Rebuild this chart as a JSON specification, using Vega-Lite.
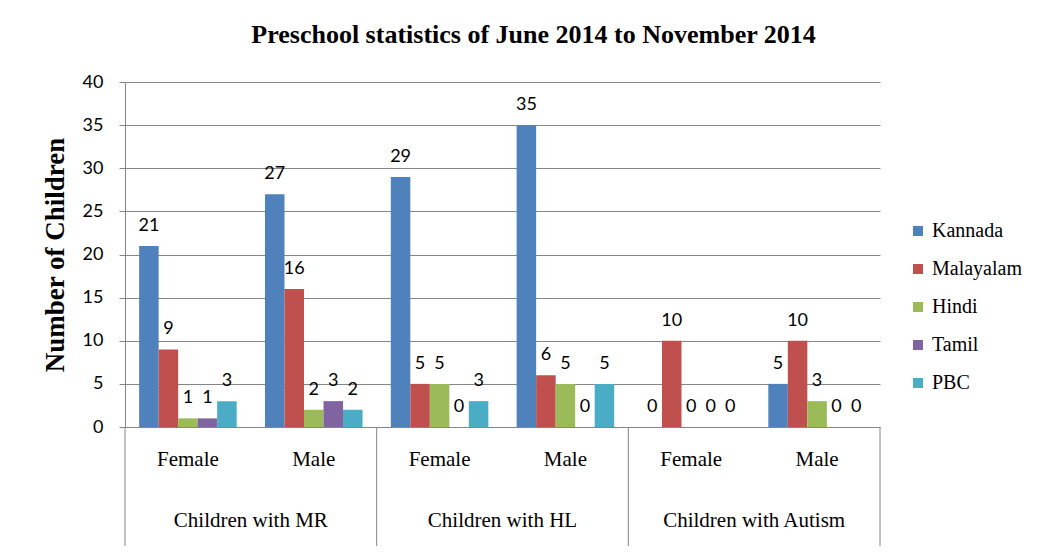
{
  "$schema": "https://vega.github.io/schema/vega-lite/v6.json",
  "width": 755,
  "height": 345,
  "autosize": {"type": "none"},
  "padding": {"left": 125, "top": 82, "right": 173, "bottom": 129},
  "background": "white",
  "title": {"text": "Preschool statistics of  June 2014  to November 2014", "font": "Liberation Serif, Times New Roman, serif", "fontSize": 26, "fontWeight": "bold", "color": "black", "anchor": "middle", "frame": "group", "offset": 25, "dx": 31},
  "config": {"view": {"stroke": null}},
  "datasets": {
    "counts": [
      {"group": "Children with MR", "gender": "Female", "cat": "MR|Female", "language": "Kannada", "value": 21},
      {"group": "Children with MR", "gender": "Female", "cat": "MR|Female", "language": "Malayalam", "value": 9},
      {"group": "Children with MR", "gender": "Female", "cat": "MR|Female", "language": "Hindi", "value": 1},
      {"group": "Children with MR", "gender": "Female", "cat": "MR|Female", "language": "Tamil", "value": 1},
      {"group": "Children with MR", "gender": "Female", "cat": "MR|Female", "language": "PBC", "value": 3},
      {"group": "Children with MR", "gender": "Male", "cat": "MR|Male", "language": "Kannada", "value": 27},
      {"group": "Children with MR", "gender": "Male", "cat": "MR|Male", "language": "Malayalam", "value": 16},
      {"group": "Children with MR", "gender": "Male", "cat": "MR|Male", "language": "Hindi", "value": 2},
      {"group": "Children with MR", "gender": "Male", "cat": "MR|Male", "language": "Tamil", "value": 3},
      {"group": "Children with MR", "gender": "Male", "cat": "MR|Male", "language": "PBC", "value": 2},
      {"group": "Children with HL", "gender": "Female", "cat": "HL|Female", "language": "Kannada", "value": 29},
      {"group": "Children with HL", "gender": "Female", "cat": "HL|Female", "language": "Malayalam", "value": 5},
      {"group": "Children with HL", "gender": "Female", "cat": "HL|Female", "language": "Hindi", "value": 5},
      {"group": "Children with HL", "gender": "Female", "cat": "HL|Female", "language": "Tamil", "value": 0},
      {"group": "Children with HL", "gender": "Female", "cat": "HL|Female", "language": "PBC", "value": 3},
      {"group": "Children with HL", "gender": "Male", "cat": "HL|Male", "language": "Kannada", "value": 35},
      {"group": "Children with HL", "gender": "Male", "cat": "HL|Male", "language": "Malayalam", "value": 6},
      {"group": "Children with HL", "gender": "Male", "cat": "HL|Male", "language": "Hindi", "value": 5},
      {"group": "Children with HL", "gender": "Male", "cat": "HL|Male", "language": "Tamil", "value": 0},
      {"group": "Children with HL", "gender": "Male", "cat": "HL|Male", "language": "PBC", "value": 5},
      {"group": "Children with  Autism", "gender": "Female", "cat": "Autism|Female", "language": "Kannada", "value": 0},
      {"group": "Children with  Autism", "gender": "Female", "cat": "Autism|Female", "language": "Malayalam", "value": 10},
      {"group": "Children with  Autism", "gender": "Female", "cat": "Autism|Female", "language": "Hindi", "value": 0},
      {"group": "Children with  Autism", "gender": "Female", "cat": "Autism|Female", "language": "Tamil", "value": 0},
      {"group": "Children with  Autism", "gender": "Female", "cat": "Autism|Female", "language": "PBC", "value": 0},
      {"group": "Children with  Autism", "gender": "Male", "cat": "Autism|Male", "language": "Kannada", "value": 5},
      {"group": "Children with  Autism", "gender": "Male", "cat": "Autism|Male", "language": "Malayalam", "value": 10},
      {"group": "Children with  Autism", "gender": "Male", "cat": "Autism|Male", "language": "Hindi", "value": 3},
      {"group": "Children with  Autism", "gender": "Male", "cat": "Autism|Male", "language": "Tamil", "value": 0},
      {"group": "Children with  Autism", "gender": "Male", "cat": "Autism|Male", "language": "PBC", "value": 0}
    ],
    "groups": [
      {"group": "Children with MR", "cat": "MR|Female"},
      {"group": "Children with HL", "cat": "HL|Female"},
      {"group": "Children with  Autism", "cat": "Autism|Female"}
    ],
    "startEdges": [
      {"cat": "MR|Female"},
      {"cat": "HL|Female"},
      {"cat": "Autism|Female"}
    ],
    "endEdges": [
      {"cat": "Autism|Male"}
    ]
  },
  "layer": [
    {
      "data": {"name": "counts"},
      "mark": {"type": "bar"},
      "encoding": {
        "x": {
          "field": "cat", "type": "nominal",
          "sort": ["MR|Female", "MR|Male", "HL|Female", "HL|Male", "Autism|Female", "Autism|Male"],
          "scale": {"domain": ["MR|Female", "MR|Male", "HL|Female", "HL|Male", "Autism|Female", "Autism|Male"], "paddingInner": 0, "paddingOuter": 0},
          "axis": {"title": null, "labelExpr": "split(datum.label, '|')[1]", "ticks": false, "domainColor": "#868686", "labelFont": "Liberation Serif, Times New Roman, serif", "labelFontSize": 21, "labelColor": "black", "labelPadding": 21, "labelAngle": 0}
        },
        "xOffset": {
          "field": "language", "type": "nominal",
          "sort": ["Kannada", "Malayalam", "Hindi", "Tamil", "PBC"],
          "scale": {"domain": ["Kannada", "Malayalam", "Hindi", "Tamil", "PBC"], "paddingInner": 0, "paddingOuter": 0.725}
        },
        "y": {
          "field": "value", "type": "quantitative",
          "scale": {"domain": [0, 40], "nice": false},
          "axis": {"title": "Number of Children", "values": [0, 5, 10, 15, 20, 25, 30, 35, 40], "grid": true, "gridColor": "#868686", "domainColor": "#868686", "tickColor": "#868686", "tickSize": 6, "labelFont": "Lato", "labelFontSize": 18, "labelColor": "black", "labelPadding": 16, "titleFont": "Liberation Serif, Times New Roman, serif", "titleFontSize": 27, "titleFontWeight": "bold", "titleColor": "black", "titlePadding": 13}
        },
        "color": {
          "field": "language", "type": "nominal",
          "sort": ["Kannada", "Malayalam", "Hindi", "Tamil", "PBC"],
          "scale": {"domain": ["Kannada", "Malayalam", "Hindi", "Tamil", "PBC"], "range": ["#4F81BD", "#C0504D", "#9BBB59", "#8064A2", "#4BACC6"]},
          "legend": {"title": null, "orient": "none", "legendX": 783, "legendY": 139, "symbolType": "square", "symbolSize": 100, "symbolStrokeWidth": 0, "labelFont": "Liberation Serif, Times New Roman, serif", "labelFontSize": 20, "labelColor": "black", "rowPadding": 18, "labelOffset": 4}
        }
      }
    },
    {
      "data": {"name": "counts"},
      "mark": {"type": "text", "font": "Lato", "fontSize": 18, "color": "black", "baseline": "alphabetic", "align": "center", "dy": -15},
      "encoding": {
        "x": {"field": "cat", "type": "nominal", "sort": ["MR|Female", "MR|Male", "HL|Female", "HL|Male", "Autism|Female", "Autism|Male"]},
        "xOffset": {"field": "language", "type": "nominal", "sort": ["Kannada", "Malayalam", "Hindi", "Tamil", "PBC"]},
        "y": {"field": "value", "type": "quantitative"},
        "text": {"field": "value", "type": "quantitative"}
      }
    },
    {
      "data": {"name": "groups"},
      "mark": {"type": "text", "font": "Liberation Serif, Times New Roman, serif", "fontSize": 21, "color": "black", "baseline": "middle", "align": "center", "dy": 94},
      "encoding": {
        "x": {"field": "cat", "type": "nominal", "bandPosition": 1},
        "y": {"datum": 0},
        "text": {"field": "group", "type": "nominal"}
      }
    },
    {
      "data": {"name": "startEdges"},
      "mark": {"type": "rule", "color": "#868686", "strokeWidth": 1},
      "encoding": {
        "x": {"field": "cat", "type": "nominal", "bandPosition": 0},
        "y": {"datum": 0},
        "y2": {"datum": -13.8}
      }
    },
    {
      "data": {"name": "endEdges"},
      "mark": {"type": "rule", "color": "#868686", "strokeWidth": 1},
      "encoding": {
        "x": {"field": "cat", "type": "nominal", "bandPosition": 1},
        "y": {"datum": 0},
        "y2": {"datum": -13.8}
      }
    }
  ]
}
